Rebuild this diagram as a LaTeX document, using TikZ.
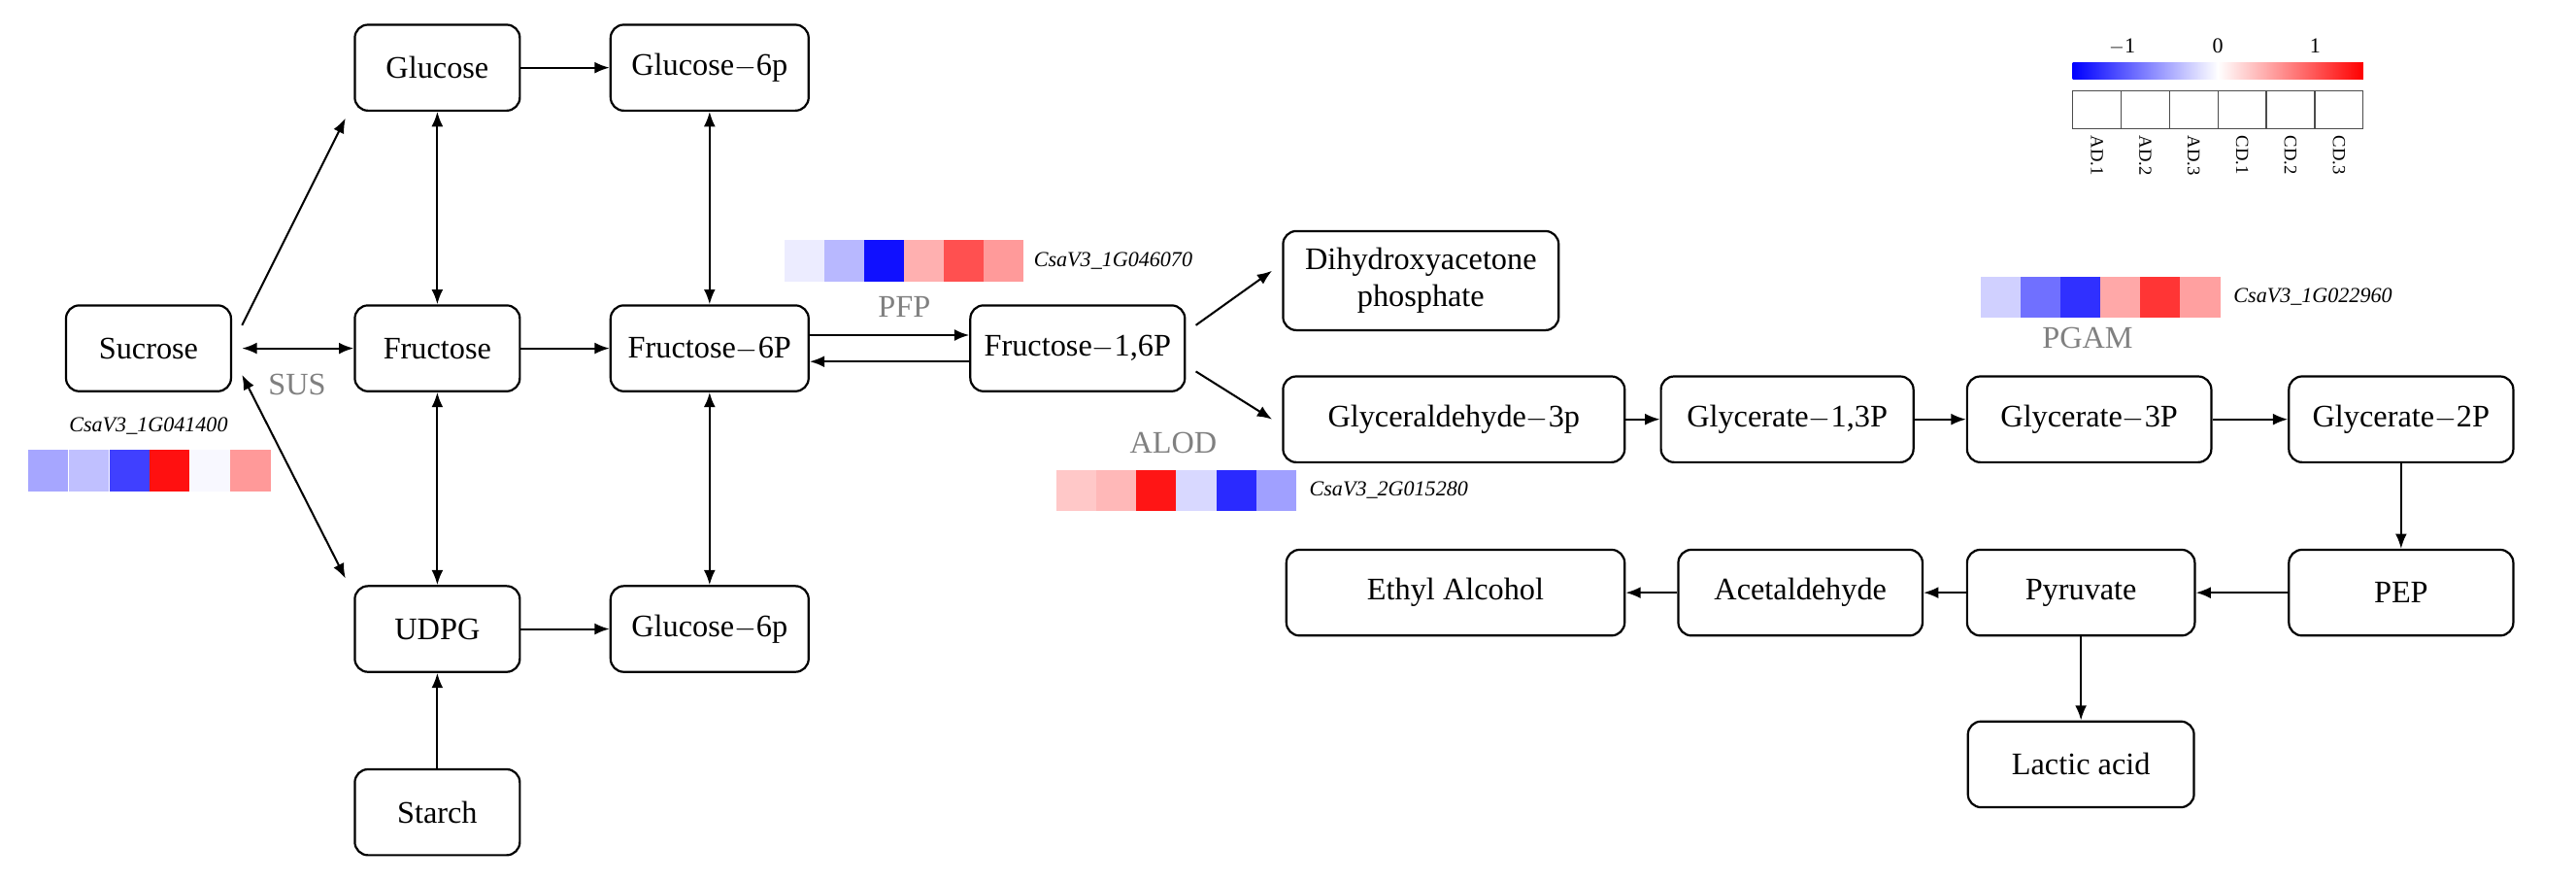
\documentclass[tikz,border=0pt]{standalone}
\usepackage{fontspec}
\usetikzlibrary{arrows.meta}
\setmainfont{Liberation Serif}
\begin{document}
\begin{tikzpicture}[x=1pt,y=-1pt,
 box/.style={draw,line width=1.3pt,rounded corners=8pt,minimum height=52pt,inner sep=2pt,font=\fontsize{19}{21}\selectfont,align=center},
 ar/.style={-{Latex[length=9pt,width=7pt]},line width=1.2pt},
 dar/.style={{Latex[length=9pt,width=7pt]}-{Latex[length=9pt,width=7pt]},line width=1.2pt},
 enz/.style={text=gray,font=\fontsize{19}{20}\selectfont},
 gene/.style={font=\itshape\fontsize{13}{14}\selectfont,anchor=west},
 cell/.style={minimum width=24.2pt,minimum height=25pt,inner sep=0,draw=none}]
\useasboundingbox (0,0) rectangle (1561,534);
\node[box,minimum width=100pt] (suc) at (90,211) {Sucrose};
\node[box,minimum width=100pt] (glu) at (265,41) {Glucose};
\node[box,minimum width=120pt] (g6a) at (430,41) {Glucose$-$6p};
\node[box,minimum width=100pt] (fru) at (265,211) {Fructose};
\node[box,minimum width=120pt] (f6p) at (430,211) {Fructose$-$6P};
\node[box,minimum width=100pt] (udpg) at (265,381) {UDPG};
\node[box,minimum width=120pt] (g6b) at (430,381) {Glucose$-$6p};
\node[box,minimum width=100pt] (sta) at (265,492) {Starch};
\node[box,minimum width=130pt] (f16) at (653,211) {Fructose$-$1,6P};
\node[box,minimum width=167pt,minimum height=60pt,font=\fontsize{19}{22}\selectfont] (dhap) at (861,170) {Dihydroxyacetone\\phosphate};
\node[box,minimum width=207pt] (gad) at (881,254) {Glyceraldehyde$-$3p};
\node[box,minimum width=153pt] (g13) at (1083,254) {Glycerate$-$1,3P};
\node[box,minimum width=148pt] (g3p) at (1266,254) {Glycerate$-$3P};
\node[box,minimum width=136pt] (g2p) at (1455,254) {Glycerate$-$2P};
\node[box,minimum width=136pt] (pep) at (1455,359) {PEP};
\node[box,minimum width=138pt] (pyr) at (1261,359) {Pyruvate};
\node[box,minimum width=148pt] (ace) at (1091,359) {Acetaldehyde};
\node[box,minimum width=205pt] (eth) at (882,359) {Ethyl Alcohol};
\node[box,minimum width=137pt] (lac) at (1261,463) {Lactic acid};
% arrows
\draw[dar] ([xshift=6pt]suc.east) -- (fru.west);
\draw[ar] ([xshift=6pt,yshift=14pt]suc.east) -- ([xshift=-5pt,yshift=-4pt]glu.south west);
\draw[dar] ([xshift=6pt,yshift=-16pt]suc.east) -- ([xshift=-5pt,yshift=4pt]udpg.north west);
\draw[ar] (glu) -- (g6a);
\draw[dar] (glu) -- (fru);
\draw[dar] (g6a) -- (f6p);
\draw[ar] (fru) -- (f6p);
\draw[dar] (fru) -- (udpg);
\draw[dar] (f6p) -- (g6b);
\draw[ar] (udpg) -- (g6b);
\draw[ar] (sta) -- (udpg);
\draw[ar] ([yshift=8pt]f6p.east) -- ([yshift=8pt]f16.west);
\draw[ar] ([yshift=-8pt]f16.west) -- ([yshift=-8pt]f6p.east);
\draw[ar] ([xshift=6pt,yshift=14pt]f16.east) -- ([xshift=-6pt,yshift=6pt]dhap.west);
\draw[ar] ([xshift=6pt,yshift=-14pt]f16.east) -- ([xshift=-6pt]gad.west);
\draw[ar] (gad) -- (g13);
\draw[ar] (g13) -- (g3p);
\draw[ar] (g3p) -- (g2p);
\draw[ar] (g2p) -- (pep);
\draw[ar] (pep) -- (pyr);
\draw[ar] (pyr) -- (ace);
\draw[ar] (ace) -- (eth);
\draw[ar] (pyr) -- (lac);
% enzyme labels
\node[enz] (sus) at (180,233) {SUS};
\node[enz] (pfp) at (548,186) {PFP};
\node[enz] (alod) at (711,268) {ALOD};
\node[enz] (pgam) at (1265,205) {PGAM};
% heatmaps
\foreach \c [count=\i] in {{166,166,255},{192,192,255},{64,64,255},{255,16,16},{248,248,255},{255,153,153}}{
 \definecolor{hc}{RGB}{\c}\node[cell,fill=hc,anchor=west] (s\i) at (17+24.5*\i-24.5,285) {};}
\node[font=\itshape\fontsize{13}{14}\selectfont] (sg) at (90,258) {CsaV3\_1G041400};
\foreach \c [count=\i] in {{236,236,255},{184,184,255},{16,16,255},{255,176,176},{255,80,80},{255,154,154}}{
 \definecolor{hc}{RGB}{\c}\node[cell,fill=hc,anchor=west] (p\i) at (475+24.2*\i-24.2,158) {};}
\node[gene] (pg) at (623,158) {CsaV3\_1G046070};
\foreach \c [count=\i] in {{255,200,200},{255,184,184},{255,21,21},{216,216,255},{42,42,255},{160,160,255}}{
 \definecolor{hc}{RGB}{\c}\node[cell,fill=hc,anchor=west] (a\i) at (640+24.2*\i-24.2,297) {};}
\node[gene] (ag) at (790,297) {CsaV3\_2G015280};
\foreach \c [count=\i] in {{208,208,255},{112,112,255},{48,48,255},{255,168,168},{255,53,53},{255,160,160}}{
 \definecolor{hc}{RGB}{\c}\node[cell,fill=hc,anchor=west] (q\i) at (1200+24.2*\i-24.2,180) {};}
\node[gene] (qg) at (1350,180) {CsaV3\_1G022960};
% legend
\shade[left color=blue,right color=white] (1256,38) rectangle (1344,48);
\shade[left color=white,right color=red] (1344,38) rectangle (1432,48);
\node[font=\fontsize{13}{14}\selectfont] (l1) at (1286,28) {$-$1};
\node[font=\fontsize{13}{14}\selectfont] (l0) at (1344,28) {0};
\node[font=\fontsize{13}{14}\selectfont] (l2) at (1403,28) {1};
\foreach \t [count=\i] in {AD.1,AD.2,AD.3,CD.1,CD.2,CD.3}{
 \draw[line width=0.8pt,draw=black!70] (1256+29.33*\i-29.33,55) rectangle (1256+29.33*\i,78);
 \node[rotate=-90,anchor=west,font=\fontsize{11}{12}\selectfont,inner sep=1pt] (lt\i) at (1256+29.33*\i-14.67,81) {\t};}
\end{tikzpicture}
\end{document}
